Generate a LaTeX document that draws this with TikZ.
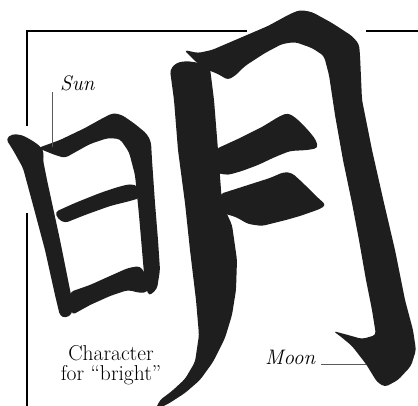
\documentclass[tikz,border=0pt]{standalone}
\usetikzlibrary{positioning}
\definecolor{ink}{HTML}{1E1E1E}
\definecolor{leader}{HTML}{5A5A5A}

\begin{document}
\begin{tikzpicture}[x=1pt, y=-1pt,
    brush/.style={fill=ink, draw=none, rounded corners=3.5pt},
    frame/.style={line width=1.6pt, color=black},
    leadline/.style={line width=0.9pt, color=leader},
    tag/.style={font=\fontsize{21}{20}\selectfont\itshape, inner sep=0pt},
    caption/.style={font=\fontsize{21.5}{20.5}\selectfont, align=center, inner sep=0pt}
]
\clip (0,0) rectangle (418,406);
\fill[white] (0,0) rectangle (418,406);

% sun radical
\fill[brush] (6,139) -- (12,134) -- (22,135) -- (33,141) -- (41,147) -- (44,153) -- (43,160) -- (47,180) -- (52,203) -- (60,240) -- (67,275) -- (73,305) -- (72,314) -- (66,318) -- (60,316) -- (55,295) -- (45,250) -- (33,205) -- (23,168) -- (13,150) -- cycle;
\fill[brush] (38,148) -- (60,140) -- (85,128) -- (103,118) -- (113,113) -- (122,115) -- (135,124) -- (147,134) -- (151,142) -- (152,160) -- (155,203) -- (158,240) -- (160,270) -- (157,289) -- (149,296) -- (145,285) -- (142,250) -- (139,215) -- (135,175) -- (129,152) -- (120,139) -- (108,138) -- (90,144) -- (72,154) -- (65,158) -- (55,155) -- (45,151) -- cycle;
\fill[brush] (55,212) -- (75,203) -- (100,193) -- (118,187) -- (130,184) -- (138,186) -- (140,198) -- (130,201) -- (110,206) -- (85,215) -- (65,223) -- (58,219) -- cycle;
\fill[brush] (70,292) -- (90,285) -- (110,276) -- (128,268) -- (140,266) -- (146,275) -- (148,292) -- (140,293) -- (128,290) -- (110,296) -- (90,305) -- (72,315) -- cycle;

% moon radical
\fill[brush] (170,70) -- (176,63) -- (186,61) -- (200,63) -- (210,68) -- (214,100) -- (218,150) -- (222,203) -- (232,225) -- (237,260) -- (236,290) -- (232,315) -- (225,338) -- (213,362) -- (200,380) -- (185,393) -- (168,404) -- (155,410) -- (160,400) -- (172,391) -- (185,379) -- (195,362) -- (199,335) -- (196,300) -- (190,250) -- (185,203) -- (178,150) -- (174,100) -- cycle;
\fill[brush] (184,50) -- (198,53) -- (212,50) -- (240,38) -- (268,26) -- (290,14) -- (300,10) -- (312,12) -- (332,23) -- (352,36) -- (359,44) -- (360,55) -- (362,100) -- (372,150) -- (384,203) -- (395,250) -- (405,300) -- (413,330) -- (416,350) -- (411,366) -- (398,380) -- (385,387) -- (377,382) -- (366,364) -- (352,346) -- (340,336) -- (333,331) -- (348,335) -- (362,339) -- (376,335) -- (372,310) -- (366,280) -- (359,240) -- (352,203) -- (343,160) -- (335,115) -- (329,75) -- (324,56) -- (312,48) -- (295,42) -- (282,44) -- (265,53) -- (245,66) -- (236,75) -- (228,80) -- (218,74) -- (208,70) -- (196,62) -- cycle;
\fill[brush] (216,149) -- (240,138) -- (262,127) -- (280,116) -- (288,113) -- (296,118) -- (308,130) -- (316,140) -- (318,148) -- (308,150) -- (290,151) -- (275,157) -- (258,165) -- (242,171) -- (228,175) -- (216,173) -- cycle;
\fill[brush] (220,194) -- (245,186) -- (270,178) -- (284,172) -- (292,173) -- (303,183) -- (316,196) -- (326,205) -- (320,209) -- (300,216) -- (286,220) -- (262,226) -- (248,224) -- (236,217) -- (222,213) -- cycle;

% frame
\coordinate (fTopL) at (27,31);
\coordinate (fTopM) at (247,31);
\coordinate (fTopR) at (366,31);
\coordinate (fEdgeR) at (418,31);
\coordinate (fLeftA) at (27,126);
\coordinate (fLeftB) at (27,213);
\coordinate (fLeftC) at (27,406);
\draw[frame] (fTopM) -- (fTopL) -- (fLeftA);
\draw[frame] (fTopR) -- (fEdgeR);
\draw[frame] (fLeftB) -- (fLeftC);

% labels
\node[tag, anchor=base west] (sun) at (60,91) {Sun};
\node[tag, anchor=base west] (moon) at (265,364) {Moon};
\node[caption] (bright) at (111,365) {Character\\for ``bright''};
\coordinate (sunTip) at (52,147);
\coordinate (moonTip) at (366,364);
\draw[leadline] ([xshift=-8pt,yshift=-1pt]sun.base west) -- (sunTip);
\draw[leadline] ([xshift=6pt]moon.base east) -- (moonTip);
\end{tikzpicture}
\end{document}
